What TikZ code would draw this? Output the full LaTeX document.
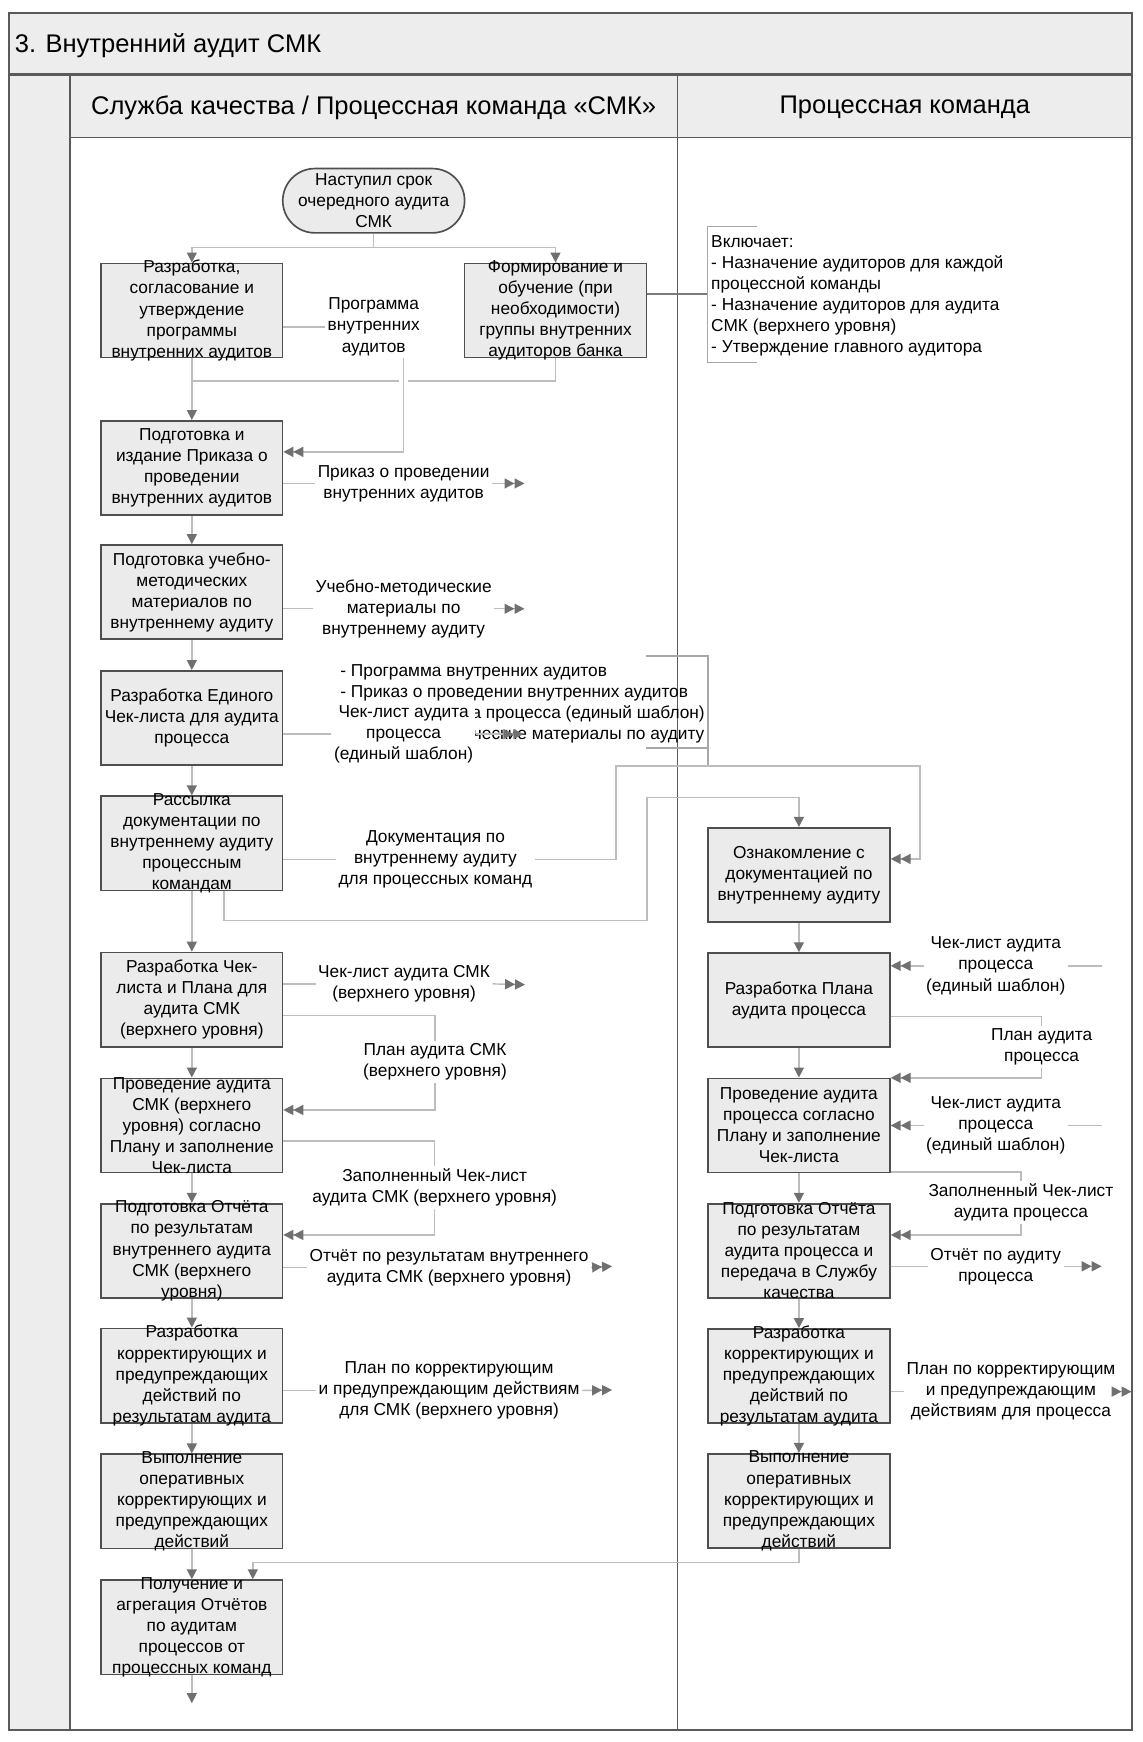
\documentclass[tikz,border=0pt]{standalone}
\usepackage{fontspec}
\setmainfont{Liberation Sans}
\usetikzlibrary{arrows.meta,calc}
\definecolor{bandgray}{HTML}{EDEDED}
\definecolor{boxfill}{HTML}{EBEBEB}
\definecolor{boxline}{HTML}{4F4F4F}
\definecolor{frameline}{HTML}{5A5A5A}
\definecolor{connline}{HTML}{BDBDBD}
\definecolor{tipgray}{HTML}{707070}
\definecolor{brline}{HTML}{A8A8A8}
\definecolor{linkline}{HTML}{7A7A7A}
\begin{document}
\begin{tikzpicture}[x=0.5pt,y=-0.5pt,
  every node/.style={font=\fontsize{7.8}{9.5}\selectfont, text=black},
  box/.style={draw=boxline, line width=0.75pt, fill=boxfill, minimum width=81.75pt, minimum height=42.5pt, inner sep=0pt},
  rbox/.style={box, minimum width=82pt},
  btext/.style={align=center, inner sep=0pt},
  lbl/.style={align=center, fill=white, inner sep=1pt},
  conn/.style={draw=connline, line width=0.65pt},
  arr/.style={conn, -{Triangle[length=4.5pt,width=4.5pt,color=tipgray]}},
  darr/.style={conn, -{Triangle[length=4.5pt,width=4.5pt,color=tipgray]Triangle[length=4.5pt,width=4.5pt,color=tipgray]}},
  brl/.style={draw=brline, line width=0.6pt},
  hdr/.style={font=\fontsize{11.5}{13}\selectfont}
]
\useasboundingbox (0,0) rectangle (1030,1571);
% frame
\fill[bandgray] (8,12) rectangle (1021,67);
\fill[bandgray] (63,67) rectangle (1021,124);
\fill[bandgray] (8,67) rectangle (63,1560);
\draw[frameline, line width=0.6pt] (63,124) -- (1021,124);
\draw[frameline, line width=0.8pt] (63,67) -- (63,1560);
\draw[frameline, line width=0.8pt] (611,67) -- (611,1560);
\draw[frameline, line width=1.1pt] (8,67) -- (1021,67);
\draw[frameline, line width=1pt] (8,12) rectangle (1021,1560);
\node[hdr, anchor=west, inner sep=0pt] (title) at (13,41) {3. Внутренний аудит СМК};
\node[hdr, inner sep=0pt] (h1) at (337,97) {Служба качества / Процессная команда «СМК»};
\node[hdr, inner sep=0pt] (h2) at (816,97) {Процессная команда};

% start
\node[box, rounded corners=14.5pt, minimum width=82pt, minimum height=29pt] (s) at (337,181) {};
\node[btext] (st) at (s) {Наступил срок\\очередного аудита\\СМК};

% left lane boxes
\node[box] (a1) at (173,280) {};
\node[btext] (a1t) at (a1) {Разработка,\\согласование и\\утверждение\\программы\\внутренних аудитов};
\node[rbox] (a2) at (501,280) {};
\node[btext] (a2t) at (a2) {Формирование и\\обучение (при\\необходимости)\\группы внутренних\\аудиторов банка};
\node[box] (a3) at (173,422) {};
\node[btext] (a3t) at (a3) {Подготовка и\\издание Приказа о\\проведении\\внутренних аудитов};
\node[box] (a4) at (173,534) {};
\node[btext] (a4t) at (a4) {Подготовка учебно-\\методических\\материалов по\\внутреннему аудиту};
\node[box] (a5) at (173,647.5) {};
\node[btext] (a5t) at (a5) {Разработка Единого\\Чек-листа для аудита\\процесса};
\node[box] (a6) at (173,760.5) {};
\node[btext] (a6t) at (a6) {Рассылка\\документации по\\внутреннему аудиту\\процессным\\командам};
\node[box] (a7) at (173,901.5) {};
\node[btext] (a7t) at (a7) {Разработка Чек-\\листа и Плана для\\аудита СМК\\(верхнего уровня)};
\node[box] (a8) at (173,1015) {};
\node[btext] (a8t) at (a8) {Проведение аудита\\СМК (верхнего\\уровня) согласно\\Плану и заполнение\\Чек-листа};
\node[box] (a9) at (173,1128) {};
\node[btext] (a9t) at (a9) {Подготовка Отчёта\\по результатам\\внутреннего аудита\\СМК (верхнего\\уровня)};
\node[box] (a10) at (173,1240.5) {};
\node[btext] (a10t) at (a10) {Разработка\\корректирующих и\\предупреждающих\\действий по\\результатам аудита};
\node[box] (a11) at (173,1354) {};
\node[btext] (a11t) at (a11) {Выполнение\\оперативных\\корректирующих и\\предупреждающих\\действий};
\node[box] (a12) at (173,1467.5) {};
\node[btext] (a12t) at (a12) {Получение и\\агрегация Отчётов\\по аудитам\\процессов от\\процессных команд};

% right lane boxes
\node[rbox] (b1) at (720.5,789) {};
\node[btext] (b1t) at (b1) {Ознакомление с\\документацией по\\внутреннему аудиту};
\node[rbox] (b2) at (720.5,902) {};
\node[btext] (b2t) at (b2) {Разработка Плана\\аудита процесса};
\node[rbox] (b3) at (720.5,1015) {};
\node[btext] (b3t) at (b3) {Проведение аудита\\процесса согласно\\Плану и заполнение\\Чек-листа};
\node[rbox] (b4) at (720.5,1128) {};
\node[btext] (b4t) at (b4) {Подготовка Отчёта\\по результатам\\аудита процесса и\\передача в Службу\\качества};
\node[rbox] (b5) at (720.5,1241) {};
\node[btext] (b5t) at (b5) {Разработка\\корректирующих и\\предупреждающих\\действий по\\результатам аудита};
\node[rbox] (b6) at (720.5,1353.5) {};
\node[btext] (b6t) at (b6) {Выполнение\\оперативных\\корректирующих и\\предупреждающих\\действий};

% annotations
\node[align=left, anchor=west, inner sep=0pt] (br1) at (641,266.5) {Включает:\\- Назначение аудиторов для каждой\\процессной команды\\- Назначение аудиторов для аудита\\СМК (верхнего уровня)\\- Утверждение главного аудитора};
\draw[brl] (683,204.5) -- (638,204.5) -- (638,327) -- (683,327);
\node[align=left, anchor=west, inner sep=0pt] (br2) at (306.6,634.4) {- Программа внутренних аудитов\\- Приказ о проведении внутренних аудитов\\- Чек-лист аудита процесса (единый шаблон)\\- Учебно-методические материалы по аудиту};
\draw[brl] (583,591.6) -- (638.5,591.6) -- (638.5,690.8);
\draw[brl] (583,674.7) -- (638.5,674.7);

% flow labels
\node[lbl] (l1) at (337,294.7) {Программа\\внутренних\\аудитов};
\node[lbl] (l2) at (364,436) {Приказ о проведении\\внутренних аудитов};
\node[lbl] (l3) at (364,549) {Учебно-методические\\материалы по\\внутреннему аудиту};
\node[lbl] (l4) at (364,662) {Чек-лист аудита\\процесса\\(единый шаблон)};
\node[lbl] (l5) at (392.7,775) {Документация по\\внутреннему аудиту\\для процессных команд};
\node[lbl] (l12) at (364.4,887.3) {Чек-лист аудита СМК\\(верхнего уровня)};
\node[lbl] (l13) at (392.3,957.9) {План аудита СМК\\(верхнего уровня)};
\node[lbl] (l14) at (392,1071) {Заполненный Чек-лист\\аудита СМК (верхнего уровня)};
\node[lbl] (l15) at (405,1143) {Отчёт по результатам внутреннего\\аудита СМК (верхнего уровня)};
\node[lbl] (l16) at (405,1254) {План по корректирующим\\и предупреждающим действиям\\для СМК (верхнего уровня)};
\node[lbl] (l6) at (898,871) {Чек-лист аудита\\процесса\\(единый шаблон)};
\node[lbl] (l7) at (939.4,944) {План аудита\\процесса};
\node[lbl] (l8) at (898,1015) {Чек-лист аудита\\процесса\\(единый шаблон)};
\node[lbl] (l9) at (920.7,1084.5) {Заполненный Чек-лист\\аудита процесса};
\node[lbl] (l10) at (898,1142) {Отчёт по аудиту\\процесса};
\node[lbl] (l11) at (911.7,1255) {План по корректирующим\\и предупреждающим\\действиям для процесса};

% coordinates
\coordinate (j1) at (337,223);
\coordinate (j2) at (173,343.5);
\coordinate (k1) at (555.6,690.8);
\coordinate (k2) at (829.7,774.6);
\coordinate (m1) at (583.6,830);
\coordinate (m2) at (720.5,719);
\coordinate (n1) at (228,1409);
\coordinate (o2) at (473,436);
\coordinate (o3) at (473,549);
\coordinate (o4) at (472,662);
\coordinate (o12) at (473.5,888);
\coordinate (o15) at (552,1142);
\coordinate (o16) at (552,1253.5);
\coordinate (o10) at (993.5,1142);
\coordinate (o11) at (1020.5,1255);
\coordinate (i6) at (994,871);
\coordinate (i8) at (994,1015);
\coordinate (out) at (173,1536);

% connectors
\draw[conn] (s.south) -- (j1);
\draw[arr] (j1) -| (a1.north);
\draw[arr] (j1) -| (a2.north);
\draw[arr] (a1.south) -- (a3.north);
\draw[conn] (a2.south) |- (j2);
\draw[conn] (a1.east |- l1.west) -- (l1.west);
\draw[darr, preaction={draw=white, line width=4pt, arrows=-, shorten >=20pt}] ($(l1.south)+(27,0)$) |- (a3.east |- 0,407.5);
\draw[draw=linkline, line width=0.6pt] (a2.east |- 0,265) -- (638,265);

\draw[arr] (a3.south) -- (a4.north);
\draw[arr] (a4.south) -- (a5.north);
\draw[arr] (a5.south) -- (a6.north);
\draw[arr] (a6.south) -- (a7.north);
\draw[arr] (a7.south) -- (a8.north);
\draw[arr] (a8.south) -- (a9.north);
\draw[arr] (a9.south) -- (a10.north);
\draw[arr] (a10.south) -- (a11.north);
\draw[arr] (a11.south) -- (a12.north);
\draw[arr] (a12.south) -- (out);

\draw[conn] (a3.east |- l2.west) -- (l2.west);
\draw[darr] (l2.east) -- (o2);
\draw[conn] (a4.east |- l3.west) -- (l3.west);
\draw[darr] (l3.east) -- (o3);
\draw[conn] (a5.east |- l4.west) -- (l4.west);
\draw[darr] (l4.east) -- (o4);
\draw[conn] (a6.east |- l5.west) -- (l5.west);
\draw[darr] (l5.east) -| (k1) -| (k2) -- (b1.east |- k2);
\draw[arr] (a6.south -| 202,0) |- (m1) |- (m2) -- (b1.north);

\draw[conn] (a7.east |- l12.west) -- (l12.west);
\draw[darr] (l12.east) -- (o12);
\draw[conn] (a7.east |- 0,916) -| (l13.north);
\draw[darr] (l13.south) |- (a8.east |- 0,1001);
\draw[conn] (a8.east |- 0,1029) -| (l14.north);
\draw[darr] (l14.south) |- (a9.east |- 0,1113.7);
\draw[conn] (a9.east |- l15.west) -- (l15.west);
\draw[darr] (l15.east) -- (o15);
\draw[conn] (a10.east |- l16.west) -- (l16.west);
\draw[darr] (l16.east) -- (o16);

\draw[arr] (b1.south) -- (b2.north);
\draw[arr] (b2.south) -- (b3.north);
\draw[arr] (b3.south) -- (b4.north);
\draw[arr] (b4.south) -- (b5.north);
\draw[arr] (b5.south) -- (b6.north);
\draw[conn] (i6) -- (l6.east);
\draw[darr] (l6.west) -- (b2.east |- l6.west);
\draw[conn] (b2.east |- 0,916.8) -| (l7.north);
\draw[darr] (l7.south) |- (b3.east |- 0,972);
\draw[conn] (i8) -- (l8.east);
\draw[darr] (l8.west) -- (b3.east |- l8.west);
\draw[conn] (b3.east |- 0,1057) -| (l9.north);
\draw[darr] (l9.south) |- (b4.east |- 0,1113.7);
\draw[conn] (b4.east |- l10.west) -- (l10.west);
\draw[darr] (l10.east) -- (o10);
\draw[conn] (b5.east |- l11.west) -- (l11.west);
\draw[darr] (l11.east) -- (o11);
\draw[arr] (b6.south) |- (n1) -- (a12.north -| n1);
\end{tikzpicture}
\end{document}
